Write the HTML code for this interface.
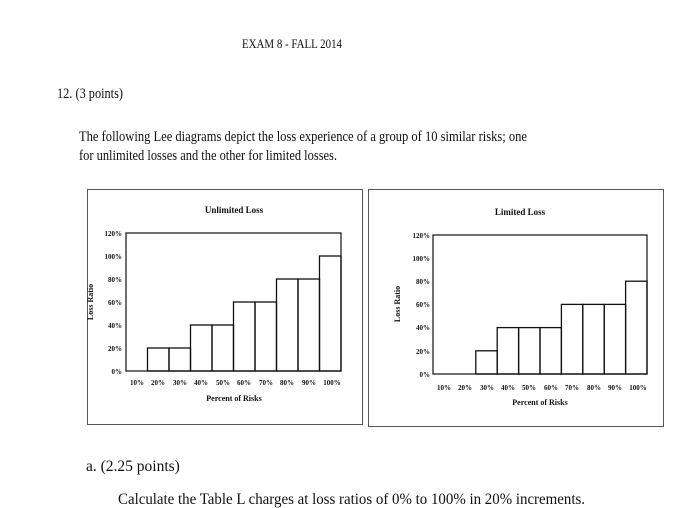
<!DOCTYPE html>
<html><head><style>
body{margin:0;background:#fff;}
svg{display:block;}
text{font-family:"Liberation Serif",serif;fill:#111;}
.s{font-size:7px;font-weight:bold;}
</style></head><body>
<svg width="699" height="508" viewBox="0 0 699 508" xmlns="http://www.w3.org/2000/svg">
<text x="242" y="48" font-size="13" textLength="100" lengthAdjust="spacingAndGlyphs">EXAM 8 - FALL 2014</text>
<text x="57" y="98" font-size="15" textLength="66" lengthAdjust="spacingAndGlyphs">12. (3 points)</text>
<text x="79" y="141" font-size="15" textLength="448" lengthAdjust="spacingAndGlyphs">The following Lee diagrams depict the loss experience of a group of 10 similar risks; one</text>
<text x="79" y="160" font-size="15" textLength="258" lengthAdjust="spacingAndGlyphs">for unlimited losses and the other for limited losses.</text>
<text x="86" y="471" font-size="15.5">a.  (2.25 points)</text>
<text x="118" y="504" font-size="15.5" textLength="467" lengthAdjust="spacingAndGlyphs">Calculate the Table L charges at loss ratios of 0% to 100% in 20% increments.</text>

<!-- Left chart -->
<rect x="87.5" y="189.5" width="275" height="235" fill="none" stroke="#555" stroke-width="1"/>
<text x="234" y="213" font-size="9" font-weight="bold" text-anchor="middle">Unlimited Loss</text>
<text transform="translate(93,302) rotate(-90)" font-size="8" font-weight="bold" text-anchor="middle">Loss Ratio</text>
<rect x="126" y="233" width="215" height="138" fill="none" stroke="#222" stroke-width="1.3"/>
<g fill="none" stroke="#111" stroke-width="1.3">
<rect x="147.5" y="348" width="21.5" height="23"/>
<rect x="169" y="348" width="21.5" height="23"/>
<rect x="190.5" y="325" width="21.5" height="46"/>
<rect x="212" y="325" width="21.5" height="46"/>
<rect x="233.5" y="302" width="21.5" height="69"/>
<rect x="255" y="302" width="21.5" height="69"/>
<rect x="276.5" y="279" width="21.5" height="92"/>
<rect x="298" y="279" width="21.5" height="92"/>
<rect x="319.5" y="256" width="21.5" height="115"/>
</g>
<g text-anchor="end">
<text class="s" x="122" y="236">120%</text><text class="s" x="122" y="259">100%</text>
<text class="s" x="122" y="282">80%</text><text class="s" x="122" y="305">60%</text>
<text class="s" x="122" y="328">40%</text><text class="s" x="122" y="351">20%</text>
<text class="s" x="122" y="374">0%</text>
</g>
<g text-anchor="middle">
<text class="s" x="137" y="385">10%</text><text class="s" x="158" y="385">20%</text>
<text class="s" x="180" y="385">30%</text><text class="s" x="201" y="385">40%</text>
<text class="s" x="223" y="385">50%</text><text class="s" x="244" y="385">60%</text>
<text class="s" x="266" y="385">70%</text><text class="s" x="287" y="385">80%</text>
<text class="s" x="309" y="385">90%</text><text class="s" x="332" y="385">100%</text>
</g>
<text x="234" y="401" font-size="8" font-weight="bold" text-anchor="middle">Percent of Risks</text>

<!-- Right chart -->
<rect x="368.5" y="189.5" width="295" height="237" fill="none" stroke="#555" stroke-width="1"/>
<text x="520" y="215" font-size="9" font-weight="bold" text-anchor="middle">Limited Loss</text>
<text transform="translate(400,304) rotate(-90)" font-size="8" font-weight="bold" text-anchor="middle">Loss Ratio</text>
<rect x="433" y="235" width="214" height="139" fill="none" stroke="#222" stroke-width="1.3"/>
<g fill="none" stroke="#111" stroke-width="1.3">
<rect x="475.8" y="350.8" width="21.4" height="23.2"/>
<rect x="497.2" y="327.6" width="21.4" height="46.4"/>
<rect x="518.6" y="327.6" width="21.4" height="46.4"/>
<rect x="540" y="327.6" width="21.4" height="46.4"/>
<rect x="561.4" y="304.4" width="21.4" height="69.6"/>
<rect x="582.8" y="304.4" width="21.4" height="69.6"/>
<rect x="604.2" y="304.4" width="21.4" height="69.6"/>
<rect x="625.6" y="281.2" width="21.4" height="92.8"/>
</g>
<g text-anchor="end">
<text class="s" x="430" y="238">120%</text><text class="s" x="430" y="261">100%</text>
<text class="s" x="430" y="284">80%</text><text class="s" x="430" y="307">60%</text>
<text class="s" x="430" y="330">40%</text><text class="s" x="430" y="354">20%</text>
<text class="s" x="430" y="377">0%</text>
</g>
<g text-anchor="middle">
<text class="s" x="444" y="390">10%</text><text class="s" x="465" y="390">20%</text>
<text class="s" x="487" y="390">30%</text><text class="s" x="508" y="390">40%</text>
<text class="s" x="529" y="390">50%</text><text class="s" x="551" y="390">60%</text>
<text class="s" x="572" y="390">70%</text><text class="s" x="594" y="390">80%</text>
<text class="s" x="615" y="390">90%</text><text class="s" x="638" y="390">100%</text>
</g>
<text x="540" y="405" font-size="8" font-weight="bold" text-anchor="middle">Percent of Risks</text>
</svg>
</body></html>
